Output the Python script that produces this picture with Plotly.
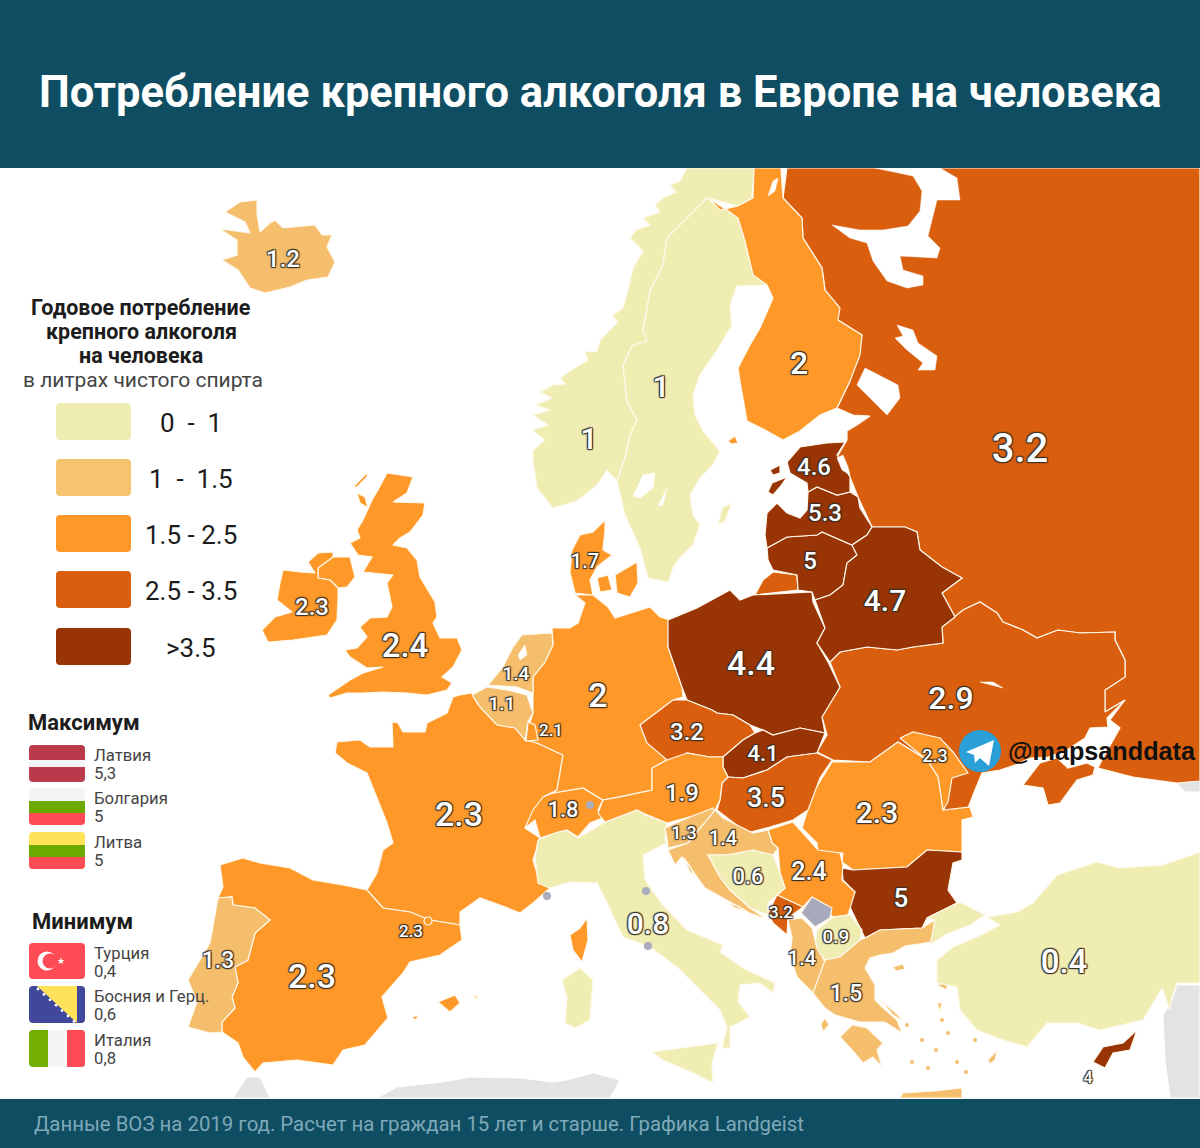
import plotly.graph_objects as go

# map values, litres of pure spirit per person (None = no data)
countries = ['Россия', 'Украина', 'Молдавия', 'Румыния', 'Болгария', 'Сербия', 'Косово', 'Черногория',
             'Сев. Македония', 'Албания', 'Греция', 'Турция', 'Финляндия', 'Норвегия', 'Швеция', 'Дания',
             'Великобритания', 'Ирландия', 'Исландия', 'Франция', 'Испания', 'Португалия', 'Италия',
             'Швейцария', 'Германия', 'Бельгия', 'Нидерланды', 'Люксембург', 'Польша', 'Литва', 'Латвия',
             'Эстония', 'Беларусь', 'Чехия', 'Словакия', 'Венгрия', 'Австрия', 'Словения', 'Хорватия',
             'Босния и Герц.', 'Кипр']
litres = [3.2, 2.9, 2.3, 2.3, 5, 2.4, None, 3.2, 0.9, 1.4, 1.5, 0.4, 2, 1, 1, 1.7, 2.4, 2.3, 1.2, 2.3, 2.3, 1.3,
          0.8, 1.8, 2, 1.1, 1.4, 2.1, 4.4, 5, 5.3, 4.6, 4.7, 3.2, 4.1, 3.5, 1.9, 1.3, 1.4, 0.6, 4]

# outlines, in map units
russia = [[(787, 168), (1200, 168), (1200, 781), (1177, 783), (1133, 777), (1098, 768), (1102, 760), (1120, 728),
           (1110, 720), (1125, 700), (1105, 712), (1105, 690), (1125, 677), (1125, 660), (1115, 640), (1115, 632),
           (1080, 633), (1058, 630), (1037, 638), (1023, 630), (1003, 622), (997, 613), (980, 602), (963, 610),
           (955, 617), (942, 593), (962, 578), (942, 567), (920, 550), (917, 532), (905, 527), (872, 527),
           (858, 497), (850, 477), (837, 457), (847, 440), (847, 431), (857, 425), (870, 416), (853, 415),
           (837, 408), (850, 381), (862, 335), (838, 320), (825, 290), (822, 268), (803, 238), (802, 218),
           (783, 198)],
          [(773, 572), (797, 575), (798, 590), (755, 595), (763, 580)]]
ukraine = [[(830, 662), (840, 652), (867, 647), (897, 650), (913, 647), (943, 643), (942, 627), (955, 617), (963, 610),
            (980, 602), (997, 613), (1003, 622), (1023, 630), (1037, 638), (1058, 630), (1080, 633), (1115, 632),
            (1115, 640), (1125, 660), (1125, 677), (1105, 690), (1105, 712), (1125, 700), (1107, 718), (1108, 727),
            (1090, 728), (1085, 738), (1067, 750), (1048, 757), (1030, 758), (1015, 765), (1000, 770), (982, 773),
            (973, 795), (968, 808), (945, 812), (938, 777), (927, 760), (898, 742), (870, 762), (833, 760),
            (817, 752), (827, 735), (822, 717), (840, 687)],
           [(1040, 763), (1057, 758), (1068, 768), (1087, 763), (1095, 767), (1093, 775), (1077, 780), (1060, 803),
            (1048, 805), (1043, 788), (1023, 785)]]
moldova = [[(900, 738), (913, 732), (940, 738), (953, 752), (968, 773), (952, 778), (948, 802), (943, 810), (938, 777),
            (927, 760)]]
romania = [[(898, 742), (927, 760), (938, 777), (943, 810), (970, 807), (973, 817), (962, 820), (962, 852), (927, 850),
            (907, 867), (853, 870), (842, 862), (843, 853), (818, 852), (817, 843), (802, 828), (813, 793), (832, 762),
            (870, 762)]]
bulgaria = [[(853, 870), (842, 868), (843, 880), (855, 892), (848, 903), (865, 938), (880, 930), (922, 928), (927, 918),
             (957, 903), (948, 890), (953, 863), (962, 860), (962, 852), (927, 850), (907, 867)]]
serbia = [[(768, 830), (793, 822), (818, 850), (840, 853), (843, 865), (842, 880), (855, 892), (848, 915), (833, 917),
           (812, 897), (803, 907), (777, 895), (785, 888), (780, 873), (778, 848), (772, 843)]]
kosovo = [[(812, 897), (832, 908), (830, 918), (815, 927), (801, 913)]]
montenegro = [[(777, 895), (803, 907), (788, 918), (787, 935), (773, 923), (768, 913)]]
macedonia = [[(817, 930), (833, 917), (850, 915), (862, 930), (860, 940), (840, 957), (825, 960), (815, 948)]]
albania = [[(788, 920), (802, 918), (812, 928), (817, 948), (825, 962), (822, 980), (813, 993), (797, 977), (790, 957),
            (792, 937)]]
greece = [[(825, 960), (840, 957), (860, 940), (865, 938), (880, 930), (922, 928), (935, 920), (932, 942), (905, 946),
           (893, 953), (880, 955), (870, 958), (865, 968), (875, 985), (875, 1000), (882, 1007), (897, 1020), (902, 1033),
           (885, 1022), (860, 1022), (835, 1015), (825, 1008), (813, 993)],
          [(840, 1037), (852, 1025), (867, 1028), (883, 1043), (877, 1050), (882, 1067), (873, 1057), (863, 1063),
           (852, 1050)],
          [(900, 1098), (903, 1093), (935, 1091), (962, 1088), (962, 1098)],
          [(937, 985), (947, 982), (947, 990)],
          [(937, 1003), (942, 1003), (940, 1012)],
          [(988, 1060), (997, 1050), (995, 1060), (990, 1064)],
          [(880, 1000), (895, 1012), (905, 1022), (893, 1015)],
          [(893, 967), (903, 964), (905, 969), (896, 971)],
          [(825, 1018), (829, 1025), (823, 1032), (821, 1024)]]
turkey = [[(987, 917), (1017, 912), (1033, 903), (1057, 875), (1097, 862), (1120, 868), (1163, 865), (1200, 852),
           (1200, 983), (1177, 983), (1172, 997), (1170, 1010), (1162, 988), (1153, 1003), (1143, 1020), (1100, 1030),
           (1077, 1023), (1047, 1023), (1027, 1047), (1003, 1040), (977, 1030), (960, 1010), (957, 987), (937, 983),
           (937, 960), (953, 947), (977, 937), (1000, 925)],
          [(935, 920), (927, 918), (957, 903), (962, 903), (985, 915), (970, 925), (945, 935), (930, 945)]]
finland = [[(708, 198), (720, 210), (738, 206), (753, 198), (754, 168), (781, 168), (783, 198), (802, 218), (803, 238),
            (822, 268), (825, 290), (840, 308), (838, 320), (862, 335), (860, 355), (850, 381), (837, 408), (820, 415),
            (800, 431), (783, 440), (767, 431), (747, 421), (740, 381), (738, 368), (750, 345), (760, 328), (773, 298),
            (767, 285), (753, 275), (745, 241), (738, 218), (727, 210)],
           [(728, 441), (735, 436), (738, 443), (731, 444)]]
norway = [[(687, 168), (680, 181), (670, 185), (676, 192), (663, 198), (655, 205), (660, 212), (643, 218), (650, 225),
           (636, 230), (630, 238), (643, 251), (633, 268), (628, 290), (623, 308), (612, 316), (618, 322), (600, 340),
           (597, 351), (585, 352), (588, 360), (570, 371), (560, 378), (565, 384), (553, 385), (540, 392), (552, 398),
           (535, 405), (550, 410), (533, 415), (548, 425), (532, 430), (545, 440), (533, 450), (533, 461), (537, 488),
           (553, 508), (577, 501), (597, 485), (607, 470), (617, 481), (625, 458), (630, 435), (637, 420), (627, 401),
           (623, 365), (632, 346), (647, 341), (643, 331), (650, 291), (663, 265), (667, 238), (680, 225), (700, 205),
           (707, 198), (738, 206), (752, 198), (754, 168)]]
sweden = [[(707, 198), (727, 210), (738, 218), (745, 241), (753, 275), (767, 285), (737, 286), (730, 305), (732, 325),
           (717, 350), (700, 375), (693, 395), (695, 415), (703, 431), (720, 451), (713, 465), (700, 478), (690, 495),
           (693, 515), (700, 525), (693, 545), (680, 558), (674, 566), (668, 582), (648, 578), (640, 548), (625, 515),
           (617, 481), (625, 458), (630, 435), (637, 420), (627, 401), (623, 365), (632, 346), (647, 341), (643, 331),
           (650, 291), (663, 265), (667, 238), (680, 225), (700, 205)],
          [(718, 525), (722, 508), (732, 503), (725, 521)]]
denmark = [[(605, 520), (593, 532), (580, 535), (572, 550), (570, 573), (575, 593), (593, 595), (590, 580), (597, 567),
            (612, 555), (603, 550), (605, 530)],
           [(615, 575), (637, 562), (638, 583), (630, 597), (617, 593)],
           [(597, 578), (608, 575), (612, 590), (600, 592)]]
uk = [[(387, 473), (413, 477), (407, 493), (393, 502), (425, 503), (423, 515), (410, 532), (400, 538), (393, 545),
       (407, 548), (417, 560), (420, 577), (435, 602), (437, 617), (433, 623), (440, 638), (457, 638), (462, 650),
       (453, 667), (442, 677), (452, 683), (447, 690), (427, 695), (407, 693), (383, 692), (363, 693), (347, 693),
       (330, 698), (328, 695), (350, 680), (363, 673), (383, 667), (367, 668), (350, 657), (345, 650), (357, 648),
       (367, 637), (360, 627), (370, 618), (387, 617), (392, 607), (387, 583), (393, 575), (377, 573), (363, 572),
       (372, 557), (358, 555), (350, 543), (360, 538), (357, 530), (363, 520), (372, 500), (378, 490)],
      [(357, 493), (365, 497), (368, 508), (360, 503)],
      [(353, 487), (368, 472), (367, 477), (357, 487)],
      [(318, 568), (333, 557), (350, 557), (355, 577), (347, 587), (338, 588), (330, 580), (318, 578)]]
ireland = [[(283, 570), (300, 572), (315, 573), (308, 562), (318, 553), (333, 552), (333, 557), (318, 568), (318, 578),
            (330, 580), (338, 588), (338, 600), (337, 620), (327, 635), (293, 640), (268, 642), (262, 630), (275, 617),
            (292, 612), (277, 600), (280, 583)]]
iceland = [[(220, 229), (240, 232), (250, 233), (245, 222), (225, 212), (240, 202), (257, 200), (257, 213), (260, 232),
            (270, 223), (275, 220), (283, 228), (295, 227), (315, 225), (322, 235), (332, 235), (327, 247), (335, 262),
            (328, 277), (307, 280), (290, 287), (265, 293), (250, 288), (238, 270), (222, 260), (237, 255), (237, 240)]]
france = [[(460, 695), (472, 693), (477, 703), (495, 723), (517, 725), (523, 737), (537, 743), (563, 755), (557, 790),
           (543, 797), (525, 828), (540, 838), (533, 860), (540, 883), (550, 888), (533, 903), (520, 913), (500, 905),
           (480, 898), (460, 912), (460, 925), (430, 920), (410, 912), (383, 908), (367, 890), (377, 873), (383, 850),
           (393, 843), (387, 823), (377, 797), (367, 773), (347, 763), (335, 753), (337, 742), (360, 740), (370, 747),
           (393, 747), (392, 722), (398, 723), (403, 732), (425, 732), (427, 723), (447, 713), (453, 697)],
          [(587, 918), (588, 940), (582, 962), (573, 950), (570, 935), (580, 928)]]
spain = [[(220, 865), (243, 858), (260, 863), (290, 868), (313, 880), (343, 885), (367, 890), (383, 908), (410, 912),
          (430, 920), (460, 925), (462, 940), (440, 955), (410, 962), (403, 973), (382, 997), (388, 1018), (365, 1045),
          (343, 1050), (333, 1065), (297, 1060), (263, 1063), (255, 1072), (243, 1057), (238, 1043), (222, 1032),
          (222, 1022), (235, 1008), (232, 997), (238, 983), (235, 967), (248, 960), (255, 933), (270, 920), (255, 908),
          (233, 905), (232, 897), (218, 898), (223, 887)],
         [(438, 1002), (455, 995), (460, 1003), (450, 1012)],
         [(470, 993), (478, 997), (477, 999)],
         [(412, 1017), (420, 1015), (415, 1020)]]
portugal = [[(218, 898), (232, 897), (233, 905), (255, 908), (270, 920), (255, 933), (248, 960), (235, 967), (238, 983),
             (232, 997), (235, 1008), (222, 1022), (222, 1032), (210, 1033), (188, 1027), (197, 1002), (188, 980),
             (200, 960), (210, 943)]]
italy = [[(538, 840), (563, 828), (578, 838), (605, 822), (637, 810), (645, 815), (667, 823), (665, 840), (667, 843),
          (643, 855), (645, 880), (663, 905), (687, 930), (723, 945), (720, 952), (743, 968), (775, 983), (773, 993),
          (760, 983), (740, 985), (738, 1002), (750, 1017), (730, 1027), (730, 1048), (722, 1048), (727, 1027),
          (720, 1010), (697, 987), (677, 967), (650, 947), (623, 937), (607, 903), (597, 883), (570, 882), (550, 888),
          (538, 883), (535, 858)],
         [(652, 1052), (680, 1048), (718, 1043), (712, 1063), (713, 1083), (693, 1073), (663, 1060)],
         [(562, 980), (580, 968), (593, 980), (590, 1020), (575, 1028), (565, 1023), (567, 997)]]
switzerland = [[(525, 828), (533, 810), (543, 797), (553, 793), (583, 788), (603, 800), (598, 810), (605, 817),
                (590, 823), (578, 837), (567, 830), (558, 832), (540, 838), (535, 820)]]
germany = [[(575, 595), (593, 595), (608, 607), (615, 618), (650, 607), (660, 617), (670, 620), (668, 647), (682, 687),
            (683, 697), (673, 700), (640, 725), (647, 743), (660, 753), (667, 760), (652, 768), (652, 790), (620, 797),
            (603, 800), (583, 788), (553, 793), (557, 790), (563, 755), (537, 743), (525, 740), (533, 713), (533, 677),
            (545, 662), (553, 645), (552, 628), (570, 628), (578, 623), (585, 603)]]
belgium = [[(472, 695), (487, 687), (507, 690), (527, 695), (533, 713), (528, 722), (525, 740), (515, 728), (497, 725),
            (480, 707)]]
netherlands = [[(488, 685), (503, 667), (513, 647), (522, 635), (552, 633), (553, 645), (545, 662), (533, 677),
                (533, 693), (517, 687)]]
luxembourg = [[(528, 722), (535, 725), (538, 740), (526, 741)]]
poland = [[(668, 620), (697, 608), (730, 590), (740, 600), (753, 595), (812, 592), (813, 602), (825, 628), (817, 643),
           (828, 662), (840, 687), (822, 717), (825, 733), (800, 728), (773, 735), (763, 730), (750, 725), (733, 715),
           (717, 713), (712, 710), (687, 700), (682, 687), (668, 647)]]
lithuania = [[(767, 548), (787, 537), (817, 535), (822, 532), (852, 545), (857, 555), (847, 563), (843, 585), (830, 595),
              (815, 600), (812, 592), (798, 590), (797, 575), (773, 570), (768, 560)]]
latvia = [[(765, 535), (767, 513), (777, 503), (787, 513), (800, 518), (807, 510), (808, 492), (817, 487), (837, 495),
           (850, 492), (858, 497), (860, 508), (872, 527), (867, 535), (852, 545), (822, 532), (817, 535), (787, 537),
           (767, 548)]]
estonia = [[(845, 442), (837, 455), (850, 477), (850, 492), (837, 495), (817, 487), (808, 492), (807, 483), (790, 473),
            (787, 462), (800, 447), (827, 443)],
           [(768, 492), (772, 483), (787, 477), (780, 487), (773, 495)],
           [(770, 470), (780, 465), (780, 473), (773, 475)]]
belarus = [[(872, 527), (890, 527), (905, 527), (917, 532), (920, 550), (942, 567), (962, 578), (942, 593), (955, 617),
            (942, 627), (943, 643), (913, 647), (897, 650), (867, 647), (840, 652), (830, 662), (817, 643), (825, 628),
            (815, 600), (830, 595), (843, 585), (847, 563), (857, 555), (852, 545), (867, 535)]]
czechia = [[(640, 725), (673, 700), (687, 700), (712, 710), (717, 713), (733, 715), (750, 725), (755, 733), (743, 740),
            (723, 757), (710, 757), (687, 753), (677, 762), (667, 760), (647, 743)]]
slovakia = [[(755, 733), (763, 730), (773, 735), (800, 728), (825, 733), (817, 753), (787, 757), (767, 770), (743, 778),
             (728, 777), (723, 767), (723, 757), (743, 740)]]
hungary = [[(728, 777), (743, 778), (767, 770), (787, 757), (817, 753), (832, 760), (820, 778), (808, 810), (793, 820),
            (770, 827), (747, 833), (717, 810), (720, 800), (722, 783)]]
austria = [[(603, 800), (620, 797), (652, 790), (652, 768), (667, 760), (687, 753), (710, 757), (723, 757), (723, 767),
            (728, 777), (722, 783), (720, 800), (715, 810), (690, 817), (667, 823), (643, 813), (637, 810), (605, 822),
            (598, 813)]]
slovenia = [[(665, 828), (690, 817), (713, 808), (715, 812), (703, 825), (688, 843), (668, 848), (667, 838)]]
croatia = [[(715, 810), (723, 818), (753, 833), (768, 830), (772, 843), (778, 848), (773, 855), (753, 850), (727, 855),
            (708, 855), (720, 877), (730, 890), (750, 908), (768, 920), (750, 913), (727, 900), (705, 888), (690, 867),
            (682, 857), (675, 865), (668, 850), (688, 843), (703, 825)],
           [(727, 903), (738, 906), (746, 911), (735, 908)],
           [(684, 858), (690, 866), (695, 878), (689, 870)]]
bosnia = [[(708, 855), (727, 855), (753, 850), (773, 855), (780, 873), (785, 888), (777, 895), (768, 903), (768, 915),
           (750, 908), (730, 890), (720, 877)]]
cyprus = [[(1093, 1062), (1103, 1047), (1123, 1043), (1137, 1030), (1130, 1050), (1113, 1053), (1105, 1068)]]

outlines = [russia, ukraine, moldova, romania, bulgaria, serbia, kosovo, montenegro, macedonia, albania, greece, turkey,
            norway, sweden, finland, denmark, uk, ireland, iceland, france, spain, portugal, italy, switzerland, germany,
            belgium, netherlands, luxembourg, poland, lithuania, latvia, estonia, belarus, czechia, slovakia, hungary,
            austria, slovenia, croatia, bosnia, cyprus]
outline_names = ['Россия', 'Украина', 'Молдавия', 'Румыния', 'Болгария', 'Сербия', 'Косово', 'Черногория',
                 'Сев. Македония', 'Албания', 'Греция', 'Турция', 'Норвегия', 'Швеция', 'Финляндия', 'Дания',
                 'Великобритания', 'Ирландия', 'Исландия', 'Франция', 'Испания', 'Португалия', 'Италия', 'Швейцария',
                 'Германия', 'Бельгия', 'Нидерланды', 'Люксембург', 'Польша', 'Литва', 'Латвия', 'Эстония', 'Беларусь',
                 'Чехия', 'Словакия', 'Венгрия', 'Австрия', 'Словения', 'Хорватия', 'Босния и Герц.', 'Кипр']

# neighbours without data, and inland water
grey_land = [[(233, 1098), (247, 1077), (260, 1077), (270, 1098)],
             [(377, 1098), (397, 1087), (443, 1082), (470, 1077), (520, 1078), (553, 1082), (567, 1080), (593, 1073),
              (620, 1080), (610, 1098)],
             [(1177, 783), (1200, 781), (1200, 792), (1185, 792)],
             [(1200, 985), (1177, 985), (1172, 1000), (1163, 1015), (1165, 1060), (1170, 1098), (1200, 1098)]]
water = [[(875, 168), (913, 176), (922, 191), (920, 211), (908, 226), (883, 230), (860, 230), (832, 225), (850, 238),
          (867, 243), (873, 261), (887, 281), (907, 288), (923, 285), (923, 276), (903, 270), (900, 256), (937, 258),
          (940, 248), (928, 236), (937, 200), (960, 200), (957, 178), (940, 168)],
         [(897, 325), (913, 330), (918, 343), (937, 356), (935, 370), (918, 370), (923, 363), (907, 350), (895, 338),
          (903, 336)],
         [(865, 368), (898, 385), (900, 398), (887, 415), (877, 405), (857, 385)],
         [(837, 458), (843, 455), (848, 467), (850, 475), (842, 470)],
         [(980, 682), (1003, 688), (993, 682)],
         [(633, 496), (643, 475), (655, 473), (653, 488), (640, 498)],
         [(658, 506), (667, 488), (663, 505)],
         [(518, 655), (525, 645), (527, 655), (520, 660)],
         [(773, 181), (778, 178), (775, 191), (768, 196)]]

# value labels on the map
label_text = ['1.2', '1', '1', '2', '3.2', '4.6', '5.3', '5', '4.7', '1.7', '2.3', '2.4', '1.4', '1.1', '2', '2.1',
              '4.4', '3.2', '4.1', '2.9', '2.3', '1.9', '3.5', '2.3', '1.8', '2.3', '1.3', '1.4', '0.6', '2.4', '5',
              '3.2', '0.9', '1.4', '1.5', '0.8', '2.3', '1.3', '2.3', '0.4', '4']
label_x = [283, 589, 661, 799, 1020, 814, 825, 810, 885, 585, 312, 405, 516, 502, 598, 551, 751, 687, 763, 951, 935, 682,
           766, 877, 563, 459, 684, 723, 748, 809, 901, 781, 836, 802, 846, 648, 411, 218, 312, 1064, 1088]
label_y = [259, 438, 386, 363, 448, 467, 513, 561, 600, 561, 607, 645, 673, 703, 695, 730, 663, 732, 753, 698, 756, 793,
           798, 812, 809, 814, 833, 838, 876, 871, 898, 912, 936, 958, 993, 923, 931, 960, 976, 961, 1077]
label_size = [24, 30, 30, 32, 40, 24, 24, 24, 30, 20, 24, 33, 19, 19, 34, 17, 34, 24, 22, 32, 18, 24, 27, 30, 22, 34,
              18, 20, 22, 25, 26, 17, 19, 20, 23, 30, 17, 23, 34, 33, 16]

# microstates
micro_x = [590, 547, 646, 648]
micro_y = [805, 896, 891, 946]

# small Aegean islands
islet_x = [907, 922, 936, 948, 912, 928, 957, 942, 966, 975]
islet_y = [1025, 1040, 1050, 1033, 1062, 1068, 1062, 1020, 1072, 1040]

legend_ranges = ['0  -  1', '1  -  1.5', '1.5 - 2.5', '2.5 - 3.5', '>3.5']
legend_colors = ['#EFEDB4', '#F6C46E', '#FE9929', '#D95F0E', '#993404']
map_colors = ['#F0EDB3', '#F4BE6C', '#FE9929', '#D95F0E', '#993404']
legend_tops = [403, 459, 515, 571, 628]

max_names = ['Латвия', 'Болгария', 'Литва']
max_values = ['5,3', '5', '5']
min_names = ['Турция', 'Босния и Герц.', 'Италия']
min_values = ['0,4', '0,6', '0,8']

BAR = '#0E4D62'
INK = '#1C1C1C'
FONT = 'Roboto'


def bin_color(v):
    if v is None:
        return '#A9A9BC'
    for limit, color in zip([1, 1.5, 2.5, 3.5], map_colors):
        if v <= limit:
            return color
    return map_colors[-1]


def poly_xy(parts):
    xs, ys = [], []
    for part in parts:
        xs += [p[0] for p in part] + [part[0][0], None]
        ys += [p[1] for p in part] + [part[0][1], None]
    return xs, ys


def rounded(x0, y0, x1, y1, color, r=4):
    path = (f'M{x0 + r},{y0} L{x1 - r},{y0} Q{x1},{y0} {x1},{y0 + r} L{x1},{y1 - r} Q{x1},{y1} {x1 - r},{y1} '
            f'L{x0 + r},{y1} Q{x0},{y1} {x0},{y1 - r} L{x0},{y0 + r} Q{x0},{y0} {x0 + r},{y0} Z')
    return dict(type='path', path=path, fillcolor=color, line_width=0, layer='above')


def rect(x0, y0, x1, y1, color):
    return dict(type='rect', x0=x0, y0=y0, x1=x1, y1=y1, fillcolor=color, line_width=0, layer='above')


def circle(cx, cy, r, color):
    return dict(type='circle', x0=cx - r, y0=cy - r, x1=cx + r, y1=cy + r, fillcolor=color, line_width=0, layer='above')


def text(x, y, s, size, color=INK, anchor='left', bold=False, font=FONT):
    return dict(x=x, y=y, text=f'<b>{s}</b>' if bold else s, showarrow=False, xanchor=anchor, yanchor='middle',
                font=dict(size=size, color=color, family=font))


fig = go.Figure()

x, y = poly_xy(grey_land)
fig.add_trace(go.Scatter(x=x, y=y, mode='lines', fill='toself', fillcolor='#E3E3E3', line=dict(color='white', width=1),
                         hoverinfo='skip'))

value_of = dict(zip(countries, litres))
for name, parts in zip(outline_names, outlines):
    x, y = poly_xy(parts)
    v = value_of[name]
    fig.add_trace(go.Scatter(x=x, y=y, mode='lines', fill='toself', fillcolor=bin_color(v), name=name,
                             line=dict(color='#FFF8EC', width=1.2), hoverinfo='name'))

x, y = poly_xy(water)
fig.add_trace(go.Scatter(x=x, y=y, mode='lines', fill='toself', fillcolor='white', line=dict(color='white', width=0.5),
                         hoverinfo='skip'))

fig.add_trace(go.Scatter(x=islet_x, y=islet_y, mode='markers', hoverinfo='skip',
                         marker=dict(size=4, color=map_colors[1])))
fig.add_trace(go.Scatter(x=micro_x, y=micro_y, mode='markers', marker=dict(size=8, color='#A9ADBD'), hoverinfo='skip'))
fig.add_trace(go.Scatter(x=[428], y=[921], mode='markers', hoverinfo='skip',
                         marker=dict(size=8, color='#FE9929', line=dict(color='#FFF8EC', width=1.2))))

# plotly sits text a touch above the middle, nudge it down with the font size
fig.add_trace(go.Scatter(
    x=label_x, y=[v + s * 0.1 for v, s in zip(label_y, label_size)], text=label_text, mode='text', hoverinfo='skip',
    textfont=dict(family=FONT, color='white', size=label_size, weight=500,
                  shadow='1px 1px 1px #3a3026, -1px -1px 1px #3a3026, 1px -1px 1px #3a3026, -1px 1px 1px #3a3026'),
))

shapes = [
    dict(type='rect', x0=0, y0=0, x1=1200, y1=168, fillcolor=BAR, line_width=0, layer='above'),
    dict(type='rect', x0=0, y0=1099, x1=1200, y1=1148, fillcolor=BAR, line_width=0, layer='above'),
]
annotations = [
    text(600, 92, 'Потребление крепного алкоголя в Европе на человека', 43.5, 'white', 'center', True),
    text(32, 1124, 'Данные ВОЗ на 2019 год. Расчет на граждан 15 лет и старше. Графика Landgeist', 20.4, '#7FA9B8'),
    text(141, 307, 'Годовое потребление', 21.5, INK, 'center', True),
    text(141, 331, 'крепного алкоголя', 21.5, INK, 'center', True),
    text(141, 355, 'на человека', 21.5, INK, 'center', True),
    text(143, 380, 'в литрах чистого спирта', 21, '#444444', 'center'),
    text(26, 722, 'Максимум', 22, INK, bold=True),
    text(30, 921, 'Минимум', 22, INK, bold=True),
]

# legend swatches
for top, color, label in zip(legend_tops, legend_colors, legend_ranges):
    shapes.append(rounded(56, top, 131, top + 37, color))
    annotations.append(text(191, top + 20, label, 26, INK, 'center'))

# flags and their captions
for name, value, ytop in zip(max_names + min_names, max_values + min_values, [745, 788, 832, 943, 986, 1030]):
    annotations.append(text(92, ytop + 10, name, 16.7, '#444444'))
    annotations.append(text(92, ytop + 28, value, 16.7, '#444444'))

shapes += [rounded(29, 745, 85, 782, '#B83A4B'), rect(29, 760, 85, 767, '#F5F5F5')]
shapes += [rounded(29, 788, 85, 825, '#F5F5F5'), rounded(29, 808, 85, 825, '#FF4B55'), rect(29, 801, 85, 813, '#6DAA00')]
shapes += [rounded(29, 832, 85, 869, '#FFE15A'), rounded(29, 852, 85, 869, '#FF4B55'), rect(29, 845, 85, 857, '#6DAA00')]
shapes += [rounded(29, 943, 85, 979, '#FF4B55'), circle(47, 961, 9.5, 'white'), circle(50, 961, 7.5, '#FF4B55')]
annotations.append(text(61, 961, '★', 9, 'white', 'center'))
shapes += [rounded(29, 986, 85, 1023, '#41479B'),
           dict(type='path', path='M37,986 L77,986 L77,1023 Z', fillcolor='#FFE15A', line_width=0, layer='above')]
for i in range(7):
    shapes.append(circle(38 + i * 6, 989 + i * 5.4, 1.4, 'white'))
shapes += [rounded(29, 1030, 85, 1067, '#73AF00'), rounded(60, 1030, 85, 1067, '#FF4B55'),
           rect(48, 1030, 67, 1067, '#F5F5F5')]

# telegram badge
shapes += [circle(980, 751, 21, '#2A9FD8'),
           dict(type='path', path='M966,752 L994,740 L989,766 L980,758 L975,763 L974,755 Z', fillcolor='white',
                line_width=0, layer='above')]
annotations.append(text(1006, 751, '@mapsanddata', 25.2, '#111111', bold=True, font='Liberation Sans'))

fig.update_layout(
    width=1200, height=1148, margin=dict(l=0, r=0, t=0, b=0), showlegend=False,
    paper_bgcolor='white', plot_bgcolor='white', shapes=shapes, annotations=annotations,
    xaxis=dict(range=[0, 1200], visible=False, fixedrange=True),
    yaxis=dict(range=[1148, 0], visible=False, fixedrange=True),
)

fig.write_html("out.html", config=dict(displayModeBar=False), post_script="document.body.style.margin='0';")
